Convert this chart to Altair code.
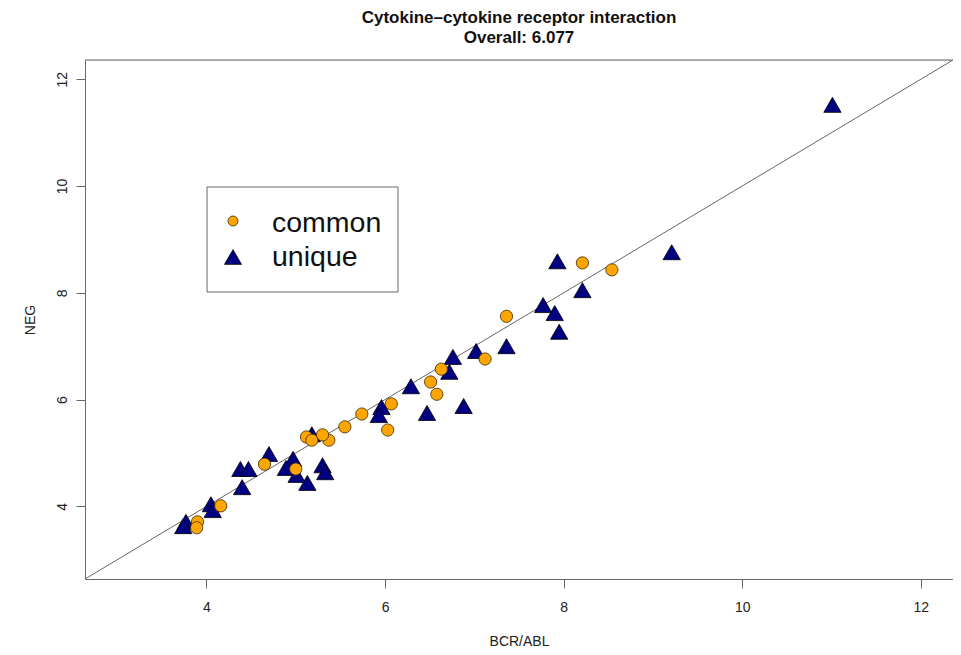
import altair as alt
import pandas as pd

# ---- data ----
common_x = [8.21, 8.54, 7.36, 7.12, 6.63, 6.51, 6.58, 6.07, 6.03, 5.74,
            5.55, 5.37, 5.30, 5.12, 5.18, 4.65, 5.00, 4.16, 3.90, 3.89]
common_y = [8.56, 8.43, 7.56, 6.76, 6.57, 6.33, 6.10, 5.92, 5.43, 5.73,
            5.49, 5.24, 5.34, 5.30, 5.24, 4.79, 4.70, 4.01, 3.71, 3.60]

unique_x = [11.01, 9.21, 7.93, 8.21, 7.77, 7.90, 7.95, 7.36, 7.02, 6.76,
            6.72, 6.29, 6.88, 6.47, 5.96, 5.93, 5.18, 4.70, 4.97, 4.89,
            5.01, 5.30, 5.33, 5.13, 4.38, 4.47, 4.40, 4.05, 4.07, 3.77, 3.74]
unique_y = [11.52, 8.76, 8.59, 8.05, 7.77, 7.62, 7.27, 7.00, 6.91, 6.80,
            6.52, 6.25, 5.88, 5.75, 5.86, 5.71, 5.35, 4.98, 4.89, 4.72,
            4.59, 4.77, 4.64, 4.44, 4.70, 4.70, 4.36, 4.04, 3.93, 3.71, 3.63]

tick_values = [4, 6, 8, 10, 12]
axis_limits = [2.64, 12.36]
legend_labels = ["common", "unique"]
title_lines = ["Cytokine\u2013cytokine receptor interaction", "Overall: 6.077"]

# ---- styling ----
W, H = 868, 519
FONT = "Liberation Sans"
GRAY = "#666666"
ORANGE = "#FFA500"
NAVY = "#000080"

df_c = pd.DataFrame({"x": common_x, "y": common_y})
df_u = pd.DataFrame({"x": unique_x, "y": unique_y})
df_d = pd.DataFrame({"x": axis_limits, "y": axis_limits})

xscale = alt.Scale(domain=axis_limits, nice=False, zero=False)
yscale = alt.Scale(domain=axis_limits, nice=False, zero=False)

xaxis = alt.Axis(values=tick_values, format="d", grid=False, tickSize=9, domainColor=GRAY,
                 tickColor=GRAY, labelFont=FONT, labelFontSize=14, labelColor="#222",
                 labelPadding=12, title="BCR/ABL", titleFont=FONT, titleFontSize=14,
                 titleFontWeight="normal", titleColor="#222", titlePadding=20)
yaxis = alt.Axis(values=tick_values, format="d", grid=False, tickSize=9, domainColor=GRAY,
                 tickColor=GRAY, labelFont=FONT, labelFontSize=14, labelColor="#222",
                 labelAngle=-90, labelAlign="center", labelBaseline="bottom",
                 labelPadding=7, title="NEG", titleFont=FONT, titleFontSize=14,
                 titleFontWeight="normal", titleColor="#222", titlePadding=18)

diag = alt.Chart(df_d).mark_line(color=GRAY, strokeWidth=1, clip=True).encode(
    x=alt.X("x:Q", scale=xscale, axis=xaxis),
    y=alt.Y("y:Q", scale=yscale, axis=yaxis),
)

tri = alt.Chart(df_u).mark_point(shape="triangle-up", filled=True, size=300,
                                 fill=NAVY, stroke="#000000", strokeWidth=0.8,
                                 opacity=1).encode(
    x=alt.X("x:Q", scale=xscale), y=alt.Y("y:Q", scale=yscale))

circ = alt.Chart(df_c).mark_point(shape="circle", filled=True, size=150,
                                  fill=ORANGE, stroke="#3a2a00", strokeWidth=0.8,
                                  opacity=1).encode(
    x=alt.X("x:Q", scale=xscale), y=alt.Y("y:Q", scale=yscale))

one = alt.Data(values=[{}])

top_rule = alt.Chart(one).mark_rule(color=GRAY, strokeWidth=1).encode(
    x=alt.value(0), x2=alt.value(W), y=alt.value(0))

leg_box = alt.Chart(one).mark_rect(fillOpacity=0, stroke=GRAY, strokeWidth=1).encode(
    x=alt.value(122), x2=alt.value(313), y=alt.value(127), y2=alt.value(232))

leg_circ = alt.Chart(one).mark_point(shape="circle", filled=True, size=100, fill=ORANGE,
                                     stroke="#3a2a00", strokeWidth=0.8, opacity=1).encode(
    x=alt.value(148), y=alt.value(161))
leg_tri = alt.Chart(one).mark_point(shape="triangle-up", filled=True, size=290, fill=NAVY,
                                    stroke="#000000", strokeWidth=0.8, opacity=1).encode(
    x=alt.value(148), y=alt.value(197))

leg_t1 = alt.Chart(one).mark_text(font=FONT, fontSize=28.5, align="left", baseline="middle",
                                  color="#111").encode(
    x=alt.value(187), y=alt.value(163), text=alt.value(legend_labels[0]))
leg_t2 = alt.Chart(one).mark_text(font=FONT, fontSize=28.5, align="left", baseline="middle",
                                  color="#111").encode(
    x=alt.value(187), y=alt.value(197), text=alt.value(legend_labels[1]))

chart = alt.layer(diag, top_rule, tri, circ, leg_box, leg_circ, leg_tri, leg_t1, leg_t2).properties(
    width=W, height=H,
    autosize=alt.AutoSizeParams(type="none"),
    padding={"left": 77, "top": 52, "right": 0, "bottom": 68},
    title=alt.TitleParams(text=title_lines, font=FONT, fontSize=17, fontWeight="bold",
                          anchor="middle", lineHeight=20, offset=13, color="#111"),
).configure_view(stroke=None).configure(background="white")

chart.save("out.html", embed_options={"renderer": "svg", "actions": False})
